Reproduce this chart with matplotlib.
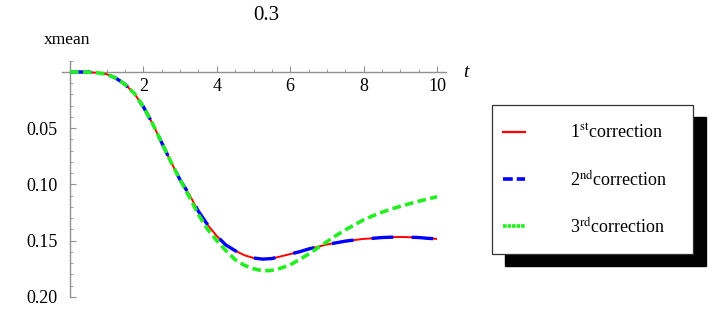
import matplotlib
matplotlib.use("Agg")
import matplotlib.pyplot as plt
from matplotlib.patches import Rectangle
from matplotlib.lines import Line2D
import numpy as np

plt.rcParams['font.family'] = ['Liberation Serif', 'DejaVu Serif']
plt.rcParams['mathtext.fontset'] = 'stix'

# ---------------- data ----------------
t = [0.0, 0.25, 0.5, 0.75, 1.0, 1.25, 1.5, 1.75, 2.0, 2.25, 2.5, 2.75, 3.0, 3.25,
     3.5, 3.75, 4.0, 4.25, 4.5, 4.75, 5.0, 5.25, 5.5, 5.75, 6.0, 6.25, 6.5, 6.75,
     7.0, 7.25, 7.5, 7.75, 8.0, 8.25, 8.5, 8.75, 9.0, 9.25, 9.5, 9.75, 10.0]

first = [0.0, 0.0, 0.0002, 0.0008, 0.002, 0.0055, 0.011, 0.019, 0.031, 0.046, 0.063,
         0.080, 0.096, 0.109, 0.124, 0.136, 0.146, 0.154, 0.159, 0.163, 0.1655, 0.1665,
         0.1660, 0.164, 0.162, 0.160, 0.1575, 0.1555, 0.1535, 0.152, 0.1505, 0.1495,
         0.1485, 0.148, 0.1473, 0.147, 0.1468, 0.147, 0.1473, 0.148, 0.1485]

second = [0.0, 0.0, 0.0002, 0.0008, 0.002, 0.0055, 0.011, 0.019, 0.031, 0.046, 0.063,
          0.080, 0.096, 0.109, 0.124, 0.136, 0.146, 0.154, 0.159, 0.163, 0.1655, 0.1665,
          0.1660, 0.164, 0.162, 0.160, 0.1575, 0.1555, 0.1535, 0.152, 0.1505, 0.1495,
          0.1485, 0.148, 0.1473, 0.147, 0.1468, 0.147, 0.1473, 0.148, 0.1485]

third = [0.0, 0.0, 0.0002, 0.0008, 0.002, 0.0055, 0.011, 0.019, 0.031, 0.046, 0.063,
         0.080, 0.096, 0.111, 0.127, 0.140, 0.150, 0.159, 0.167, 0.172, 0.175, 0.177,
         0.1765, 0.1745, 0.1715, 0.167, 0.162, 0.1565, 0.151, 0.1455, 0.1405, 0.136,
         0.1315, 0.128, 0.1248, 0.122, 0.1195, 0.1172, 0.115, 0.113, 0.111]

x_major = [2, 4, 6, 8, 10]
y_major = [0.05, 0.10, 0.15, 0.20]
y_labels = ["0.05", "0.10", "0.15", "0.20"]
legend_labels = [r"1$^{\mathrm{st}}$correction",
                 r"2$^{\mathrm{nd}}$correction",
                 r"3$^{\mathrm{rd}}$correction"]
title_text = "0.3"
ylabel_text = "xmean"
xlabel_text = "t"

# ---------------- figure ----------------
W, H = 720, 326
fig = plt.figure(figsize=(W / 100, H / 100), dpi=100)

def fx(px):
    return px / W

def fy(py):
    return 1 - py / H

ax = fig.add_axes([0.0819, 0.0724, 0.5506, 0.7586])
ax.set_xlim(-0.3, 10.5)
ax.set_ylim(0.205, -0.015)
ax.patch.set_alpha(0)

axis_col = '#909090'
for s in ['top', 'right']:
    ax.spines[s].set_visible(False)
ax.spines['bottom'].set_position(('data', 0))
ax.spines['left'].set_position(('data', 0))
ax.spines['bottom'].set_bounds(-0.22, 10.25)
ax.spines['left'].set_bounds(-0.01, 0.20)
for s in ['bottom', 'left']:
    ax.spines[s].set_color(axis_col)
    ax.spines[s].set_linewidth(1.0)

ax.set_xticks(x_major)
ax.set_xticklabels([str(v) for v in x_major])
ax.set_xticks(np.arange(0.5, 10.01, 0.5), minor=True)
ax.set_yticks(y_major)
ax.set_yticklabels(y_labels)
ax.set_yticks([-0.01] + [v / 100 for v in range(1, 20) if v % 5 != 0], minor=True)

ax.tick_params(axis='both', which='major', direction='in', length=4.5, width=0.8,
               color=axis_col, labelsize=13, labelcolor='black')
ax.tick_params(axis='both', which='minor', direction='in', length=2.5, width=0.6,
               color=axis_col)
ax.tick_params(axis='x', which='major', pad=4)
ax.tick_params(axis='y', which='major', pad=9)

# curves
ax.plot(t, first, color='#ff0000', lw=1.4, solid_capstyle='butt', zorder=3)
ax.plot(t, second, color='#0000ff', lw=2.4, dashes=(6.5, 5.5), zorder=4)
ax.plot(t, third, color='#22ee22', lw=2.6, dashes=(2.4, 1.2), zorder=5)

# texts
fig.text(fx(266), fy(15), title_text, ha='center', va='center', fontsize=15)
fig.text(fx(44), fy(40), ylabel_text, ha='left', va='center', fontsize=12.5)
fig.text(fx(466), fy(72), xlabel_text, ha='center', va='center', fontsize=14, style='italic')

# legend (manual, with shadow)
shadow = Rectangle((fx(505), fy(266)), fx(706) - fx(505), fy(117) - fy(266),
                   transform=fig.transFigure, facecolor='black', edgecolor='black', zorder=1)
box = Rectangle((fx(492), fy(254)), fx(693) - fx(492), fy(105) - fy(254),
                transform=fig.transFigure, facecolor='white', edgecolor='#333333',
                lw=0.9, zorder=2)
fig.add_artist(shadow)
fig.add_artist(box)

rows = [132, 179, 226]
styles = [dict(color='#ff0000', lw=1.6),
          dict(color='#0000ff', lw=2.6, dashes=(2.7, 1.1)),
          dict(color='#22ee22', lw=2.6, dashes=(1.0, 0.25))]
for r, st, lab in zip(rows, styles, legend_labels):
    ln = Line2D([fx(503), fx(525)], [fy(r), fy(r)], transform=fig.transFigure,
                zorder=3, **st)
    fig.add_artist(ln)
    fig.text(fx(570), fy(r + 1), lab, ha='left', va='center', fontsize=13, zorder=3)

fig.savefig("out.png", dpi=100)
